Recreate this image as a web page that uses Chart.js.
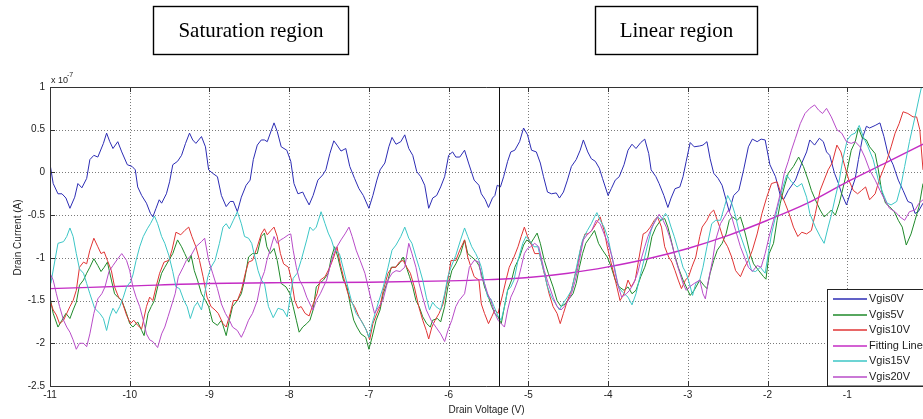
<!DOCTYPE html>
<html>
<head>
<meta charset="utf-8">
<script src="https://cdn.jsdelivr.net/npm/chart.js@4/dist/chart.umd.min.js"></script>
<style>
html,body{margin:0;padding:0;background:#fff;}
#wrap{position:relative;width:923px;height:419px;overflow:hidden;}
canvas{display:block;}
</style>
</head>
<body>
<div id="wrap"><canvas id="c" width="923" height="419"></canvas></div>
<script>
// ---------- data ----------
const xTicks = [-11,-10,-9,-8,-7,-6,-5,-4,-3,-2,-1];
const yTicks = [1,0.5,0,-0.5,-1,-1.5,-2,-2.5];
const xRange = [-11,-0.05];
const yRange = [-2.5,1];
const yExponent = '-7';
const regionBoundary = -5.37;
const regionNames = ['Saturation region','Linear region'];
const xTitle = 'Drain Voltage (V)';
const yTitle = 'Drain Current (A)';
const seriesNames = ['Vgis0V','Vgis5V','Vgis10V','Fitting Line','Vgis15V','Vgis20V'];

const vgis0V = [[-11.00,0.10],[-10.96,-0.13],[-10.90,-0.25],[-10.85,-0.25],[-10.80,-0.30],[-10.75,-0.42],[-10.69,-0.29],[-10.65,-0.13],[-10.60,-0.18],[-10.54,-0.07],[-10.50,0.15],[-10.45,0.20],[-10.40,0.18],[-10.33,0.34],[-10.29,0.46],[-10.25,0.36],[-10.21,0.28],[-10.15,0.36],[-10.10,0.24],[-10.03,0.09],[-9.97,0.07],[-9.93,0.03],[-9.90,-0.17],[-9.85,-0.27],[-9.79,-0.36],[-9.74,-0.48],[-9.71,-0.52],[-9.67,-0.42],[-9.63,-0.32],[-9.60,-0.36],[-9.54,-0.25],[-9.50,-0.11],[-9.46,0.09],[-9.40,0.13],[-9.35,0.20],[-9.30,0.34],[-9.25,0.46],[-9.21,0.38],[-9.17,0.34],[-9.10,0.42],[-9.05,0.30],[-9.01,0.03],[-8.96,-0.01],[-8.90,-0.05],[-8.85,-0.27],[-8.79,-0.40],[-8.74,-0.34],[-8.70,-0.34],[-8.65,-0.46],[-8.60,-0.29],[-8.54,-0.15],[-8.49,-0.09],[-8.45,0.15],[-8.40,0.32],[-8.35,0.38],[-8.31,0.38],
[-8.275,0.36],[-8.19,0.58],[-8.15,0.48],[-8.10,0.30],[-8.03,0.26],[-7.98,0.13],[-7.94,-0.13],[-7.89,-0.25],[-7.83,-0.23],[-7.80,-0.29],[-7.75,-0.38],[-7.70,-0.27],[-7.64,-0.09],[-7.58,-0.03],[-7.54,0.03],[-7.49,0.22],[-7.44,0.37],[-7.40,0.32],[-7.35,0.25],[-7.29,0.28],[-7.24,0.07],[-7.18,-0.07],[-7.125,-0.19],[-7.07,-0.27],[-7.00,-0.42],[-6.95,-0.27],[-6.90,-0.09],[-6.86,0.03],[-6.80,0.11],[-6.75,0.30],[-6.71,0.41],[-6.66,0.33],[-6.60,0.36],[-6.55,0.44],[-6.50,0.28],[-6.45,0.20],[-6.40,0.01],[-6.35,-0.05],[-6.30,-0.15],[-6.25,-0.42],[-6.20,-0.30],[-6.15,-0.27],[-6.10,-0.17],[-6.05,-0.05],[-6.00,0.20],[-5.95,0.24],[-5.91,0.18],[-5.86,0.18],[-5.80,0.26],[-5.75,0.11],[-5.68,-0.09],[-5.62,-0.15],
[-5.59,-0.25],[-5.54,-0.32],[-5.50,-0.41],[-5.45,-0.30],[-5.42,-0.27],[-5.39,-0.15],[-5.35,-0.17],[-5.31,-0.05],[-5.26,0.13],[-5.22,0.24],[-5.17,0.26],[-5.11,0.36],[-5.06,0.52],[-5.01,0.44],[-4.96,0.26],[-4.90,0.24],[-4.85,0.11],[-4.81,-0.05],[-4.76,-0.23],[-4.71,-0.25],[-4.65,-0.24],[-4.61,-0.30],[-4.56,-0.23],[-4.51,-0.09],[-4.46,0.07],[-4.40,0.15],[-4.35,0.26],[-4.31,0.38],[-4.255,0.24],[-4.21,0.16],[-4.16,0.13],[-4.11,0.05],[-4.07,-0.07],[-4.00,-0.27],[-3.96,-0.19],[-3.91,-0.09],[-3.86,-0.05],[-3.80,0.09],[-3.75,0.26],[-3.70,0.33],[-3.65,0.28],[-3.59,0.35],[-3.54,0.39],[-3.49,0.22],[-3.46,0.03],[-3.40,-0.05],[-3.36,-0.13],[-3.30,-0.27],[-3.25,-0.41],[-3.21,-0.30],[-3.16,-0.19],[-3.10,-0.17],[-3.06,-0.05],[-3.02,0.13],[-2.97,0.35],[-2.92,0.30],[-2.85,0.31],
[-2.81,0.32],[-2.76,0.36],[-2.72,0.16],[-2.675,-0.01],[-2.62,-0.07],[-2.57,-0.15],[-2.52,-0.32],[-2.48,-0.46],[-2.425,-0.27],[-2.36,-0.21],[-2.30,0.03],[-2.24,0.30],[-2.19,0.39],[-2.13,0.36],[-2.08,0.39],[-2.03,0.38],[-1.97,0.09],[-1.90,-0.05],[-1.84,-0.27],[-1.80,-0.32],[-1.74,-0.21],[-1.65,-0.09],[-1.57,0.11],[-1.51,0.24],[-1.47,0.38],[-1.41,0.32],[-1.35,0.40],[-1.30,0.36],[-1.26,0.24],[-1.22,0.20],[-1.16,-0.01],[-1.11,-0.13],[-1.07,-0.25],[-1.01,-0.38],[-0.95,-0.21],[-0.90,-0.07],[-0.86,0.15],[-0.81,0.40],[-0.76,0.54],[-0.72,0.52],[-0.65,0.55],[-0.59,0.58],[-0.54,0.42],[-0.49,0.22],[-0.425,0.09],[-0.36,-0.09],[-0.30,-0.21],[-0.24,-0.34],[-0.19,-0.36],[-0.15,-0.48],[-0.11,-0.46],[-0.05,-0.36]];

const vgis5V = [[-11.00,-1.46],[-10.96,-1.65],[-10.90,-1.81],[-10.85,-1.73],[-10.80,-1.65],[-10.75,-1.71],[-10.71,-1.61],[-10.67,-1.52],[-10.63,-1.32],[-10.58,-1.26],[-10.54,-1.18],[-10.50,-1.11],[-10.45,-1.01],[-10.40,-1.09],[-10.36,-1.16],[-10.32,-1.11],[-10.28,-1.05],[-10.23,-1.26],[-10.19,-1.42],[-10.15,-1.46],[-10.10,-1.50],[-10.04,-1.65],[-10.00,-1.77],[-9.96,-1.81],[-9.90,-1.75],[-9.85,-1.85],[-9.82,-1.91],[-9.77,-1.65],[-9.73,-1.57],[-9.69,-1.50],[-9.65,-1.34],[-9.60,-1.18],[-9.56,-1.11],[-9.51,-1.03],[-9.46,-0.95],[-9.40,-0.79],[-9.35,-0.87],[-9.31,-0.95],[-9.26,-1.05],[-9.23,-0.97],[-9.19,-1.15],[-9.15,-1.26],[-9.10,-1.42],[-9.05,-1.50],[-9.01,-1.57],[-8.96,-1.75],[-8.90,-1.79],[-8.85,-1.73],[-8.79,-1.91],[-8.75,-1.73],[-8.71,-1.57],[-8.65,-1.50],[-8.60,-1.42],[-8.56,-1.26],[-8.51,-0.99],[-8.46,-0.95],[-8.40,-0.95],[-8.35,-0.75],[-8.31,-0.71],
[-8.28,-0.87],[-8.24,-0.95],[-8.19,-0.89],[-8.15,-1.03],[-8.10,-1.30],[-8.04,-1.34],[-7.99,-1.42],[-7.95,-1.57],[-7.91,-1.73],[-7.875,-1.87],[-7.83,-1.81],[-7.78,-1.77],[-7.74,-1.73],[-7.70,-1.61],[-7.66,-1.34],[-7.62,-1.30],[-7.57,-1.26],[-7.51,-1.18],[-7.47,-0.99],[-7.43,-0.87],[-7.39,-0.99],[-7.36,-1.11],[-7.32,-1.26],[-7.275,-1.34],[-7.23,-1.57],[-7.19,-1.73],[-7.15,-1.81],[-7.10,-1.89],[-7.04,-1.93],[-7.00,-2.07],[-6.96,-1.93],[-6.91,-1.73],[-6.86,-1.61],[-6.82,-1.42],[-6.76,-1.26],[-6.72,-1.11],[-6.67,-1.11],[-6.62,-1.07],[-6.57,-0.99],[-6.53,-1.11],[-6.49,-1.22],[-6.45,-1.34],[-6.41,-1.50],[-6.37,-1.57],[-6.325,-1.69],[-6.275,-1.77],[-6.23,-1.81],[-6.20,-1.73],[-6.14,-1.71],[-6.10,-1.75],[-6.05,-1.57],[-6.01,-1.34],[-5.96,-1.15],[-5.91,-1.07],[-5.85,-0.95],[-5.80,-0.79],[-5.76,-0.95],[-5.71,-0.99],[-5.66,-1.03],[-5.62,-1.09],
[-5.59,-1.18],[-5.55,-1.34],[-5.50,-1.46],[-5.46,-1.57],[-5.42,-1.65],[-5.38,-1.69],[-5.34,-1.77],[-5.30,-1.57],[-5.26,-1.38],[-5.21,-1.26],[-5.17,-1.11],[-5.11,-0.99],[-5.06,-0.85],[-5.02,-0.79],[-4.97,-0.83],[-4.93,-0.77],[-4.89,-0.71],[-4.85,-0.83],[-4.80,-1.03],[-4.75,-1.18],[-4.69,-1.34],[-4.64,-1.50],[-4.59,-1.57],[-4.54,-1.54],[-4.49,-1.48],[-4.44,-1.42],[-4.40,-1.30],[-4.36,-1.11],[-4.32,-0.95],[-4.28,-0.83],[-4.22,-0.75],[-4.17,-0.68],[-4.12,-0.83],[-4.07,-0.91],[-4.01,-0.99],[-3.96,-1.11],[-3.91,-1.26],[-3.86,-1.34],[-3.80,-1.38],[-3.75,-1.34],[-3.70,-1.42],[-3.65,-1.38],[-3.59,-1.22],[-3.54,-1.11],[-3.50,-0.99],[-3.45,-0.75],[-3.40,-0.64],[-3.34,-0.56],[-3.29,-0.54],[-3.25,-0.64],[-3.21,-0.79],[-3.17,-0.95],[-3.12,-1.11],[-3.06,-1.26],[-3.02,-1.34],[-2.97,-1.44],[-2.92,-1.38],[-2.85,-1.26],
[-2.80,-1.32],[-2.76,-1.36],[-2.72,-1.18],[-2.675,-1.03],[-2.63,-0.91],[-2.57,-0.83],[-2.52,-0.72],[-2.48,-0.56],[-2.44,-0.52],[-2.38,-0.56],[-2.34,-0.52],[-2.30,-0.64],[-2.26,-0.79],[-2.22,-0.95],[-2.175,-1.07],[-2.11,-1.15],[-2.05,-1.22],[-2.02,-1.25],[-1.98,-0.95],[-1.925,-0.83],[-1.88,-0.56],[-1.84,-0.36],[-1.79,-0.17],[-1.74,-0.01],[-1.675,0.07],[-1.61,0.18],[-1.55,0.07],[-1.49,-0.09],[-1.45,-0.21],[-1.40,-0.32],[-1.34,-0.44],[-1.29,-0.52],[-1.24,-0.48],[-1.20,-0.44],[-1.15,-0.50],[-1.10,-0.36],[-1.05,-0.17],[-1.00,0.03],[-0.95,0.26],[-0.90,0.36],[-0.86,0.52],[-0.81,0.40],[-0.76,0.38],[-0.72,0.30],[-0.65,0.22],[-0.61,0.03],[-0.57,-0.21],[-0.52,-0.36],[-0.47,-0.40],[-0.41,-0.46],[-0.36,-0.56],[-0.31,-0.64],[-0.26,-0.85],[-0.20,-0.72],[-0.15,-0.56],[-0.10,-0.40],[-0.05,-0.13]];

const vgis10V = [[-11.00,-1.50],[-10.96,-1.61],[-10.92,-1.67],[-10.88,-1.77],[-10.83,-1.73],[-10.79,-1.65],[-10.75,-1.57],[-10.71,-1.50],[-10.67,-1.38],[-10.63,-1.11],[-10.58,-1.05],[-10.54,-1.07],[-10.50,-0.91],[-10.45,-0.77],[-10.40,-0.87],[-10.36,-0.95],[-10.32,-0.93],[-10.28,-1.03],[-10.23,-1.15],[-10.19,-1.34],[-10.14,-1.46],[-10.10,-1.50],[-10.04,-1.67],[-9.99,-1.77],[-9.95,-1.73],[-9.90,-1.79],[-9.85,-1.83],[-9.79,-1.57],[-9.75,-1.46],[-9.71,-1.50],[-9.67,-1.34],[-9.625,-1.18],[-9.57,-1.05],[-9.51,-1.03],[-9.47,-0.91],[-9.42,-0.70],[-9.36,-0.73],[-9.31,-0.68],[-9.26,-0.64],[-9.22,-0.75],[-9.17,-0.87],[-9.125,-1.03],[-9.08,-1.22],[-9.03,-1.46],[-8.98,-1.57],[-8.93,-1.61],[-8.89,-1.65],[-8.83,-1.77],[-8.79,-1.81],[-8.74,-1.65],[-8.70,-1.50],[-8.65,-1.50],[-8.60,-1.38],[-8.55,-1.18],[-8.51,-1.05],[-8.46,-1.03],[-8.40,-0.87],[-8.35,-0.72],[-8.31,-0.66],
[-8.275,-0.73],[-8.23,-0.68],[-8.19,-0.64],[-8.15,-0.75],[-8.11,-0.95],[-8.07,-1.07],[-8.01,-1.11],[-7.97,-1.26],[-7.93,-1.50],[-7.89,-1.59],[-7.85,-1.57],[-7.80,-1.65],[-7.75,-1.68],[-7.70,-1.54],[-7.65,-1.42],[-7.61,-1.26],[-7.55,-1.22],[-7.49,-1.11],[-7.44,-0.99],[-7.40,-0.87],[-7.36,-1.07],[-7.32,-1.22],[-7.275,-1.38],[-7.23,-1.50],[-7.18,-1.57],[-7.125,-1.69],[-7.075,-1.77],[-7.03,-1.85],[-6.99,-1.96],[-6.95,-1.77],[-6.90,-1.65],[-6.86,-1.57],[-6.82,-1.38],[-6.76,-1.18],[-6.71,-1.11],[-6.66,-1.11],[-6.62,-1.05],[-6.57,-1.03],[-6.525,-1.11],[-6.48,-1.18],[-6.43,-1.34],[-6.375,-1.57],[-6.325,-1.73],[-6.28,-1.85],[-6.25,-1.95],[-6.21,-1.81],[-6.17,-1.73],[-6.12,-1.65],[-6.07,-1.54],[-6.01,-1.26],[-5.97,-1.03],[-5.91,-1.03],[-5.86,-0.91],[-5.80,-0.79],[-5.76,-0.99],[-5.72,-1.11],[-5.68,-1.22],[-5.62,-1.26],
[-5.59,-1.54],[-5.55,-1.65],[-5.50,-1.77],[-5.46,-1.69],[-5.42,-1.61],[-5.38,-1.65],[-5.32,-1.42],[-5.28,-1.26],[-5.24,-1.11],[-5.18,-0.99],[-5.13,-0.87],[-5.09,-0.75],[-5.05,-0.64],[-5.01,-0.75],[-4.96,-0.85],[-4.92,-0.95],[-4.86,-0.95],[-4.82,-1.11],[-4.78,-1.26],[-4.74,-1.42],[-4.69,-1.57],[-4.64,-1.65],[-4.60,-1.77],[-4.56,-1.65],[-4.51,-1.50],[-4.46,-1.38],[-4.42,-1.22],[-4.38,-1.07],[-4.34,-0.87],[-4.29,-0.72],[-4.25,-0.72],[-4.205,-0.68],[-4.15,-0.60],[-4.10,-0.52],[-4.05,-0.68],[-4.01,-0.87],[-3.97,-1.03],[-3.93,-1.18],[-3.89,-1.34],[-3.85,-1.50],[-3.80,-1.42],[-3.75,-1.26],[-3.71,-1.34],[-3.66,-1.26],[-3.61,-0.99],[-3.56,-0.72],[-3.52,-0.70],[-3.47,-0.64],[-3.42,-0.56],[-3.38,-0.52],[-3.33,-0.64],[-3.29,-0.87],[-3.24,-0.99],[-3.20,-1.05],[-3.16,-1.15],[-3.12,-1.26],[-3.08,-1.36],[-3.03,-1.26],[-2.99,-1.22],[-2.95,-1.11],[-2.90,-0.99],[-2.85,-0.75],
[-2.82,-0.64],[-2.76,-0.56],[-2.72,-0.48],[-2.675,-0.44],[-2.63,-0.56],[-2.60,-0.64],[-2.55,-0.79],[-2.50,-0.87],[-2.45,-0.99],[-2.40,-1.15],[-2.34,-1.22],[-2.29,-1.11],[-2.24,-1.03],[-2.19,-0.91],[-2.13,-0.72],[-2.07,-0.48],[-2.01,-0.29],[-1.95,-0.13],[-1.88,-0.11],[-1.83,-0.25],[-1.78,-0.36],[-1.73,-0.48],[-1.675,-0.64],[-1.62,-0.75],[-1.57,-0.70],[-1.51,-0.72],[-1.45,-0.68],[-1.40,-0.48],[-1.34,-0.21],[-1.29,-0.09],[-1.24,0.03],[-1.19,0.11],[-1.13,0.32],[-1.08,0.24],[-1.03,0.07],[-0.98,-0.09],[-0.925,-0.21],[-0.87,-0.25],[-0.82,-0.21],[-0.77,-0.17],[-0.72,-0.32],[-0.65,-0.25],[-0.60,-0.09],[-0.55,0.03],[-0.50,0.15],[-0.45,0.30],[-0.40,0.46],[-0.35,0.57],[-0.30,0.71],[-0.24,0.69],[-0.175,0.65],[-0.13,0.65],[-0.09,0.50],[-0.05,0.03]];

const fittingLine = [[-11,-1.36],[-10,-1.33],[-9,-1.30],[-8,-1.29],[-7,-1.285],[-6,-1.27],[-5.5,-1.255],[-5,-1.23],[-4.5,-1.18],[-4,-1.105],[-3.5,-1.01],[-3,-0.89],[-2.5,-0.74],[-2,-0.56],[-1.5,-0.36],[-1,-0.11],[-0.5,0.12],[-0.05,0.33]];

const vgis15V = [[-10.99,-1.30],[-10.90,-0.83],[-10.83,-0.81],[-10.79,-0.75],[-10.75,-0.65],[-10.71,-0.75],[-10.67,-0.95],[-10.63,-1.13],[-10.58,-1.18],[-10.54,-1.30],[-10.50,-1.42],[-10.44,-1.59],[-10.375,-1.65],[-10.33,-1.71],[-10.29,-1.85],[-10.25,-1.69],[-10.21,-1.59],[-10.17,-1.65],[-10.125,-1.57],[-10.08,-1.46],[-10.04,-1.34],[-9.99,-1.28],[-9.96,-1.20],[-9.92,-1.03],[-9.875,-0.87],[-9.83,-0.75],[-9.78,-0.66],[-9.74,-0.60],[-9.69,-0.51],[-9.65,-0.60],[-9.60,-0.75],[-9.56,-0.83],[-9.51,-0.97],[-9.46,-1.16],[-9.42,-1.34],[-9.375,-1.36],[-9.32,-1.50],[-9.28,-1.57],[-9.24,-1.71],[-9.19,-1.57],[-9.15,-1.52],[-9.10,-1.61],[-9.06,-1.42],[-9.02,-1.22],[-8.98,-1.11],[-8.93,-1.03],[-8.875,-0.83],[-8.83,-0.64],[-8.79,-0.60],[-8.75,-0.66],[-8.70,-0.56],[-8.65,-0.46],[-8.60,-0.60],[-8.56,-0.75],[-8.51,-0.77],[-8.47,-0.83],[-8.43,-0.99],[-8.39,-1.15],[-8.35,-1.26],[-8.31,-1.30],
[-8.26,-1.57],[-8.20,-1.70],[-8.14,-1.59],[-8.075,-1.61],[-8.025,-1.69],[-7.98,-1.42],[-7.95,-1.24],[-7.90,-1.18],[-7.85,-1.03],[-7.78,-0.79],[-7.74,-0.64],[-7.70,-0.68],[-7.66,-0.64],[-7.60,-0.46],[-7.55,-0.60],[-7.51,-0.71],[-7.47,-0.79],[-7.43,-0.91],[-7.37,-0.95],[-7.325,-1.11],[-7.275,-1.30],[-7.22,-1.50],[-7.16,-1.65],[-7.10,-1.73],[-7.04,-1.83],[-7.00,-1.93],[-6.96,-1.77],[-6.91,-1.61],[-6.86,-1.46],[-6.82,-1.34],[-6.76,-1.11],[-6.71,-0.91],[-6.66,-0.85],[-6.60,-0.75],[-6.55,-0.64],[-6.50,-0.77],[-6.46,-0.83],[-6.41,-0.99],[-6.37,-1.11],[-6.325,-1.26],[-6.28,-1.46],[-6.24,-1.61],[-6.20,-1.52],[-6.16,-1.57],[-6.10,-1.61],[-6.05,-1.42],[-6.01,-1.22],[-5.97,-1.11],[-5.91,-0.97],[-5.85,-0.79],[-5.80,-0.65],[-5.76,-0.75],[-5.71,-0.87],[-5.66,-0.95],[-5.62,-1.03],
[-5.59,-1.11],[-5.55,-1.30],[-5.51,-1.46],[-5.47,-1.48],[-5.43,-1.57],[-5.385,-1.67],[-5.34,-1.73],[-5.30,-1.57],[-5.26,-1.38],[-5.22,-1.34],[-5.18,-1.26],[-5.13,-1.03],[-5.07,-0.83],[-5.03,-0.75],[-4.99,-0.79],[-4.93,-0.87],[-4.88,-0.87],[-4.84,-1.03],[-4.80,-1.18],[-4.76,-1.34],[-4.71,-1.46],[-4.65,-1.55],[-4.61,-1.61],[-4.57,-1.54],[-4.51,-1.46],[-4.46,-1.38],[-4.42,-1.22],[-4.37,-0.99],[-4.32,-0.79],[-4.26,-0.68],[-4.21,-0.60],[-4.17,-0.52],[-4.14,-0.47],[-4.10,-0.56],[-4.05,-0.64],[-4.00,-0.77],[-3.96,-0.95],[-3.92,-1.11],[-3.87,-1.34],[-3.82,-1.40],[-3.75,-1.46],[-3.70,-1.55],[-3.65,-1.42],[-3.59,-1.18],[-3.54,-0.99],[-3.50,-0.83],[-3.46,-0.68],[-3.42,-0.58],[-3.38,-0.52],[-3.33,-0.56],[-3.28,-0.48],[-3.25,-0.52],[-3.21,-0.64],[-3.17,-0.75],[-3.12,-0.91],[-3.06,-1.11],[-3.02,-1.18],[-2.98,-1.30],[-2.94,-1.44],[-2.90,-1.30],[-2.85,-1.26],
[-2.81,-1.11],[-2.76,-0.87],[-2.70,-0.60],[-2.65,-0.56],[-2.59,-0.56],[-2.54,-0.40],[-2.50,-0.27],[-2.45,-0.36],[-2.41,-0.48],[-2.36,-0.68],[-2.32,-0.79],[-2.26,-0.95],[-2.20,-1.15],[-2.15,-1.16],[-2.09,-1.11],[-2.03,-1.18],[-1.95,-0.72],[-1.88,-0.44],[-1.82,-0.21],[-1.76,-0.03],[-1.70,-0.11],[-1.63,-0.17],[-1.57,-0.13],[-1.51,-0.29],[-1.47,-0.48],[-1.40,-0.64],[-1.34,-0.75],[-1.29,-0.83],[-1.24,-0.64],[-1.20,-0.50],[-1.15,-0.29],[-1.10,-0.09],[-1.05,0.18],[-1.00,0.38],[-0.95,0.44],[-0.90,0.46],[-0.85,0.55],[-0.80,0.42],[-0.74,0.30],[-0.675,0.15],[-0.61,-0.09],[-0.55,-0.25],[-0.50,-0.36],[-0.45,-0.38],[-0.38,-0.34],[-0.33,-0.17],[-0.28,0.07],[-0.22,0.36],[-0.15,0.65],[-0.10,0.87],[-0.05,1.08]];

const vgis20V = [[-11.00,-1.18],[-10.96,-1.26],[-10.92,-1.42],[-10.88,-1.57],[-10.83,-1.73],[-10.79,-1.81],[-10.75,-1.87],[-10.71,-1.96],[-10.67,-2.07],[-10.63,-2.00],[-10.58,-2.00],[-10.54,-2.04],[-10.50,-1.89],[-10.45,-1.65],[-10.40,-1.48],[-10.35,-1.42],[-10.31,-1.34],[-10.26,-1.16],[-10.21,-1.09],[-10.15,-1.01],[-10.10,-0.95],[-10.04,-1.03],[-10.00,-1.15],[-9.96,-1.34],[-9.92,-1.46],[-9.875,-1.57],[-9.83,-1.73],[-9.79,-1.89],[-9.75,-1.96],[-9.71,-1.98],[-9.65,-2.05],[-9.60,-1.89],[-9.56,-1.81],[-9.52,-1.69],[-9.47,-1.54],[-9.43,-1.42],[-9.39,-1.22],[-9.33,-1.11],[-9.29,-1.03],[-9.23,-0.97],[-9.17,-0.87],[-9.10,-0.81],[-9.06,-0.77],[-9.01,-1.03],[-8.96,-1.18],[-8.90,-1.36],[-8.85,-1.54],[-8.80,-1.65],[-8.75,-1.73],[-8.71,-1.81],[-8.65,-1.85],[-8.60,-1.93],[-8.56,-1.85],[-8.51,-1.73],[-8.46,-1.65],[-8.40,-1.50],[-8.35,-1.26],[-8.31,-1.16],
[-8.28,-1.03],[-8.24,-0.91],[-8.19,-0.75],[-8.15,-0.83],[-8.11,-0.79],[-8.07,-0.77],[-8.01,-0.73],[-7.98,-0.72],[-7.95,-0.91],[-7.91,-1.11],[-7.87,-1.26],[-7.825,-1.34],[-7.78,-1.46],[-7.74,-1.54],[-7.70,-1.61],[-7.66,-1.50],[-7.61,-1.42],[-7.57,-1.34],[-7.53,-1.26],[-7.49,-1.11],[-7.44,-0.95],[-7.40,-0.87],[-7.35,-0.79],[-7.30,-0.72],[-7.25,-0.64],[-7.21,-0.75],[-7.16,-0.91],[-7.11,-1.03],[-7.05,-1.18],[-7.01,-1.34],[-6.97,-1.50],[-6.93,-1.65],[-6.875,-1.57],[-6.825,-1.50],[-6.76,-1.26],[-6.71,-1.18],[-6.66,-1.15],[-6.61,-1.16],[-6.55,-1.11],[-6.50,-0.83],[-6.46,-0.95],[-6.41,-1.11],[-6.37,-1.30],[-6.325,-1.46],[-6.28,-1.61],[-6.22,-1.73],[-6.16,-1.81],[-6.10,-1.89],[-6.05,-1.98],[-6.01,-1.85],[-5.96,-1.73],[-5.91,-1.57],[-5.87,-1.50],[-5.80,-1.42],[-5.74,-1.11],[-5.68,-1.03],[-5.62,-1.05],
[-5.59,-1.22],[-5.55,-1.30],[-5.51,-1.42],[-5.47,-1.50],[-5.42,-1.65],[-5.38,-1.73],[-5.34,-1.77],[-5.30,-1.81],[-5.26,-1.61],[-5.22,-1.46],[-5.18,-1.38],[-5.13,-1.26],[-5.09,-1.11],[-5.05,-0.95],[-5.01,-0.89],[-4.97,-0.87],[-4.92,-0.83],[-4.87,-0.87],[-4.84,-0.99],[-4.80,-1.15],[-4.75,-1.30],[-4.69,-1.46],[-4.64,-1.57],[-4.59,-1.61],[-4.55,-1.57],[-4.50,-1.50],[-4.46,-1.42],[-4.41,-1.26],[-4.36,-1.03],[-4.31,-0.79],[-4.255,-0.72],[-4.205,-0.68],[-4.15,-0.56],[-4.10,-0.60],[-4.05,-0.72],[-4.00,-0.83],[-3.95,-0.99],[-3.91,-1.18],[-3.87,-1.34],[-3.83,-1.46],[-3.77,-1.42],[-3.73,-1.38],[-3.68,-1.30],[-3.63,-1.18],[-3.59,-1.03],[-3.54,-0.87],[-3.50,-0.75],[-3.45,-0.64],[-3.40,-0.56],[-3.36,-0.49],[-3.31,-0.56],[-3.27,-0.64],[-3.23,-0.75],[-3.19,-0.87],[-3.15,-1.03],[-3.10,-1.18],[-3.06,-1.30],[-3.02,-1.38],[-2.98,-1.34],[-2.92,-1.30],[-2.85,-1.26],
[-2.81,-1.42],[-2.78,-1.48],[-2.74,-1.26],[-2.69,-1.03],[-2.65,-0.79],[-2.59,-0.60],[-2.54,-0.52],[-2.49,-0.44],[-2.45,-0.52],[-2.40,-0.68],[-2.34,-0.87],[-2.29,-0.99],[-2.24,-1.11],[-2.19,-1.16],[-2.13,-1.09],[-2.08,-1.11],[-2.03,-0.95],[-1.98,-0.75],[-1.925,-0.56],[-1.88,-0.40],[-1.83,-0.21],[-1.79,-0.01],[-1.74,0.13],[-1.70,0.26],[-1.65,0.40],[-1.59,0.57],[-1.53,0.69],[-1.47,0.75],[-1.41,0.79],[-1.36,0.73],[-1.31,0.69],[-1.26,0.75],[-1.20,0.65],[-1.13,0.50],[-1.07,0.46],[-1.01,0.36],[-0.95,0.34],[-0.90,0.36],[-0.84,0.30],[-0.78,0.18],[-0.72,0.03],[-0.65,-0.09],[-0.59,-0.21],[-0.53,-0.32],[-0.47,-0.42],[-0.40,-0.46],[-0.34,-0.52],[-0.28,-0.56],[-0.22,-0.46],[-0.15,-0.44],[-0.10,-0.36],[-0.05,-0.32]];

const seriesData = [vgis0V, vgis5V, vgis10V, fittingLine, vgis15V, vgis20V];

// ---------- styles ----------
const seriesStyles = [
  {color:'#2c2cb4', width:1, order:6, smooth:false},
  {color:'#1f8a2a', width:1, order:5, smooth:false},
  {color:'#e03434', width:1, order:4, smooth:false},
  {color:'#c42cc4', width:1.4, order:3, smooth:true},
  {color:'#3cc6c6', width:1, order:2, smooth:false},
  {color:'#b84cc8', width:1, order:1, smooth:false}
];
const SANS = '"Liberation Sans", Arial, sans-serif';
const SERIF = '"Liberation Serif", "Times New Roman", serif';

const datasets = seriesData.map((d,i)=>({
  label: seriesNames[i],
  data: d.map(p=>({x:p[0], y:p[1]})),
  borderColor: seriesStyles[i].color,
  backgroundColor: seriesStyles[i].color,
  borderWidth: seriesStyles[i].width,
  pointRadius: 0,
  pointHoverRadius: 0,
  showLine: true,
  fill: false,
  tension: seriesStyles[i].smooth ? 0.4 : 0,
  cubicInterpolationMode: seriesStyles[i].smooth ? 'monotone' : 'default',
  order: seriesStyles[i].order
}));

const decor = {
  id: 'decor',
  beforeDatasetsDraw(chart){
    const {ctx, chartArea:a, scales:{x,y}} = chart;
    ctx.save();
    ctx.strokeStyle = '#7a7a7a';
    ctx.lineWidth = 1;
    ctx.setLineDash([1,2]);
    xTicks.forEach(v=>{
      if (v <= xRange[0]) return;
      const px = Math.round(x.getPixelForValue(v)) + 0.5;
      ctx.beginPath(); ctx.moveTo(px, a.top); ctx.lineTo(px, a.bottom); ctx.stroke();
    });
    yTicks.forEach(v=>{
      if (v <= yRange[0] || v >= yRange[1]) return;
      const py = Math.round(y.getPixelForValue(v)) + 0.5;
      ctx.beginPath(); ctx.moveTo(a.left, py); ctx.lineTo(a.right, py); ctx.stroke();
    });
    ctx.restore();
  },
  afterDatasetsDraw(chart){
    const {ctx, chartArea:a, scales:{x,y}} = chart;
    ctx.save();
    ctx.setLineDash([]);
    // axes box (left, top, bottom)
    ctx.strokeStyle = '#333';
    ctx.lineWidth = 1;
    ctx.beginPath();
    ctx.moveTo(a.right, a.top + 0.5); ctx.lineTo(a.left + 0.5, a.top + 0.5);
    ctx.lineTo(a.left + 0.5, a.bottom + 0.5); ctx.lineTo(a.right, a.bottom + 0.5);
    ctx.stroke();
    // inward tick marks
    const tl = 5;
    xTicks.forEach(v=>{
      const px = Math.round(x.getPixelForValue(v)) + 0.5;
      ctx.beginPath();
      ctx.moveTo(px, a.bottom); ctx.lineTo(px, a.bottom - tl);
      ctx.moveTo(px, a.top); ctx.lineTo(px, a.top + tl);
      ctx.stroke();
    });
    yTicks.forEach(v=>{
      const py = Math.round(y.getPixelForValue(v)) + 0.5;
      ctx.beginPath(); ctx.moveTo(a.left, py); ctx.lineTo(a.left + tl, py); ctx.stroke();
    });
    // region divider
    const bx = Math.round(x.getPixelForValue(regionBoundary)) + 0.5;
    ctx.strokeStyle = '#111';
    ctx.beginPath(); ctx.moveTo(bx, a.top); ctx.lineTo(bx, a.bottom); ctx.stroke();

    // legend
    const lx = 827.5, ly = 289.5;
    ctx.fillStyle = '#fff';
    ctx.fillRect(lx, ly, 120, a.bottom - ly);
    ctx.strokeStyle = '#222';
    ctx.lineWidth = 1;
    ctx.strokeRect(lx, ly, 120, a.bottom - ly);
    ctx.font = '11px ' + SANS;
    ctx.textBaseline = 'middle';
    ctx.textAlign = 'left';
    seriesNames.forEach((n,i)=>{
      const ry = Math.round(299 + i * 15.6);
      ctx.strokeStyle = seriesStyles[i].color;
      ctx.lineWidth = 1.6;
      ctx.beginPath(); ctx.moveTo(833, ry); ctx.lineTo(867, ry); ctx.stroke();
      ctx.fillStyle = '#1a1a1a';
      ctx.fillText(n, 869, ry);
    });
    ctx.restore();
  },
  afterDraw(chart){
    const {ctx, chartArea:a} = chart;
    ctx.save();
    // exponent label
    ctx.fillStyle = '#222';
    ctx.textAlign = 'left';
    ctx.textBaseline = 'alphabetic';
    ctx.font = '9px ' + SANS;
    ctx.fillText('x 10', 51, 83);
    ctx.font = '7px ' + SANS;
    ctx.fillText(yExponent, 67, 77);
    // axis titles
    ctx.font = '10px ' + SANS;
    ctx.textAlign = 'center';
    ctx.textBaseline = 'middle';
    ctx.fillText(xTitle, (a.left + a.right) / 2, 410);
    ctx.save();
    ctx.translate(18, (a.top + a.bottom) / 2 + 1);
    ctx.rotate(-Math.PI / 2);
    ctx.fillText(yTitle, 0, 0);
    ctx.restore();
    // region boxes
    const boxes = [
      {x:153.5, w:195, text:regionNames[0]},
      {x:595.5, w:162, text:regionNames[1]}
    ];
    ctx.strokeStyle = '#000';
    ctx.lineWidth = 1.4;
    ctx.font = '21px ' + SERIF;
    ctx.fillStyle = '#000';
    ctx.textAlign = 'center';
    ctx.textBaseline = 'alphabetic';
    boxes.forEach(b=>{
      ctx.strokeRect(b.x, 6.5, b.w, 48);
      ctx.fillText(b.text, b.x + b.w / 2, 37);
    });
    ctx.restore();
  }
};

Chart.defaults.font.family = SANS;

new Chart(document.getElementById('c'), {
  type: 'scatter',
  data: { datasets },
  options: {
    responsive: false,
    animation: false,
    devicePixelRatio: 1,
    events: [],
    layout: { padding: { top: 87, left: 0, right: 0, bottom: 0 } },
    plugins: { legend: { display: false }, tooltip: { enabled: false } },
    scales: {
      x: {
        type: 'linear',
        min: xRange[0], max: xRange[1],
        afterBuildTicks: s => { s.ticks = xTicks.map(v => ({ value: v })); },
        afterFit: s => { s.height = 33; },
        grid: { display: false, drawTicks: false },
        border: { display: false },
        ticks: { autoSkip: false, maxRotation: 0, minRotation: 0, padding: 3, color: '#222', font: { size: 10 }, callback: v => String(v) }
      },
      y: {
        type: 'linear',
        min: yRange[0], max: yRange[1],
        afterBuildTicks: s => { s.ticks = yTicks.map(v => ({ value: v })); },
        afterFit: s => { s.width = 50; },
        grid: { display: false, drawTicks: false },
        border: { display: false },
        ticks: { autoSkip: false, padding: 5, color: '#222', font: { size: 10 }, callback: v => String(v) }
      }
    }
  },
  plugins: [decor]
});
</script>
</body>
</html>
